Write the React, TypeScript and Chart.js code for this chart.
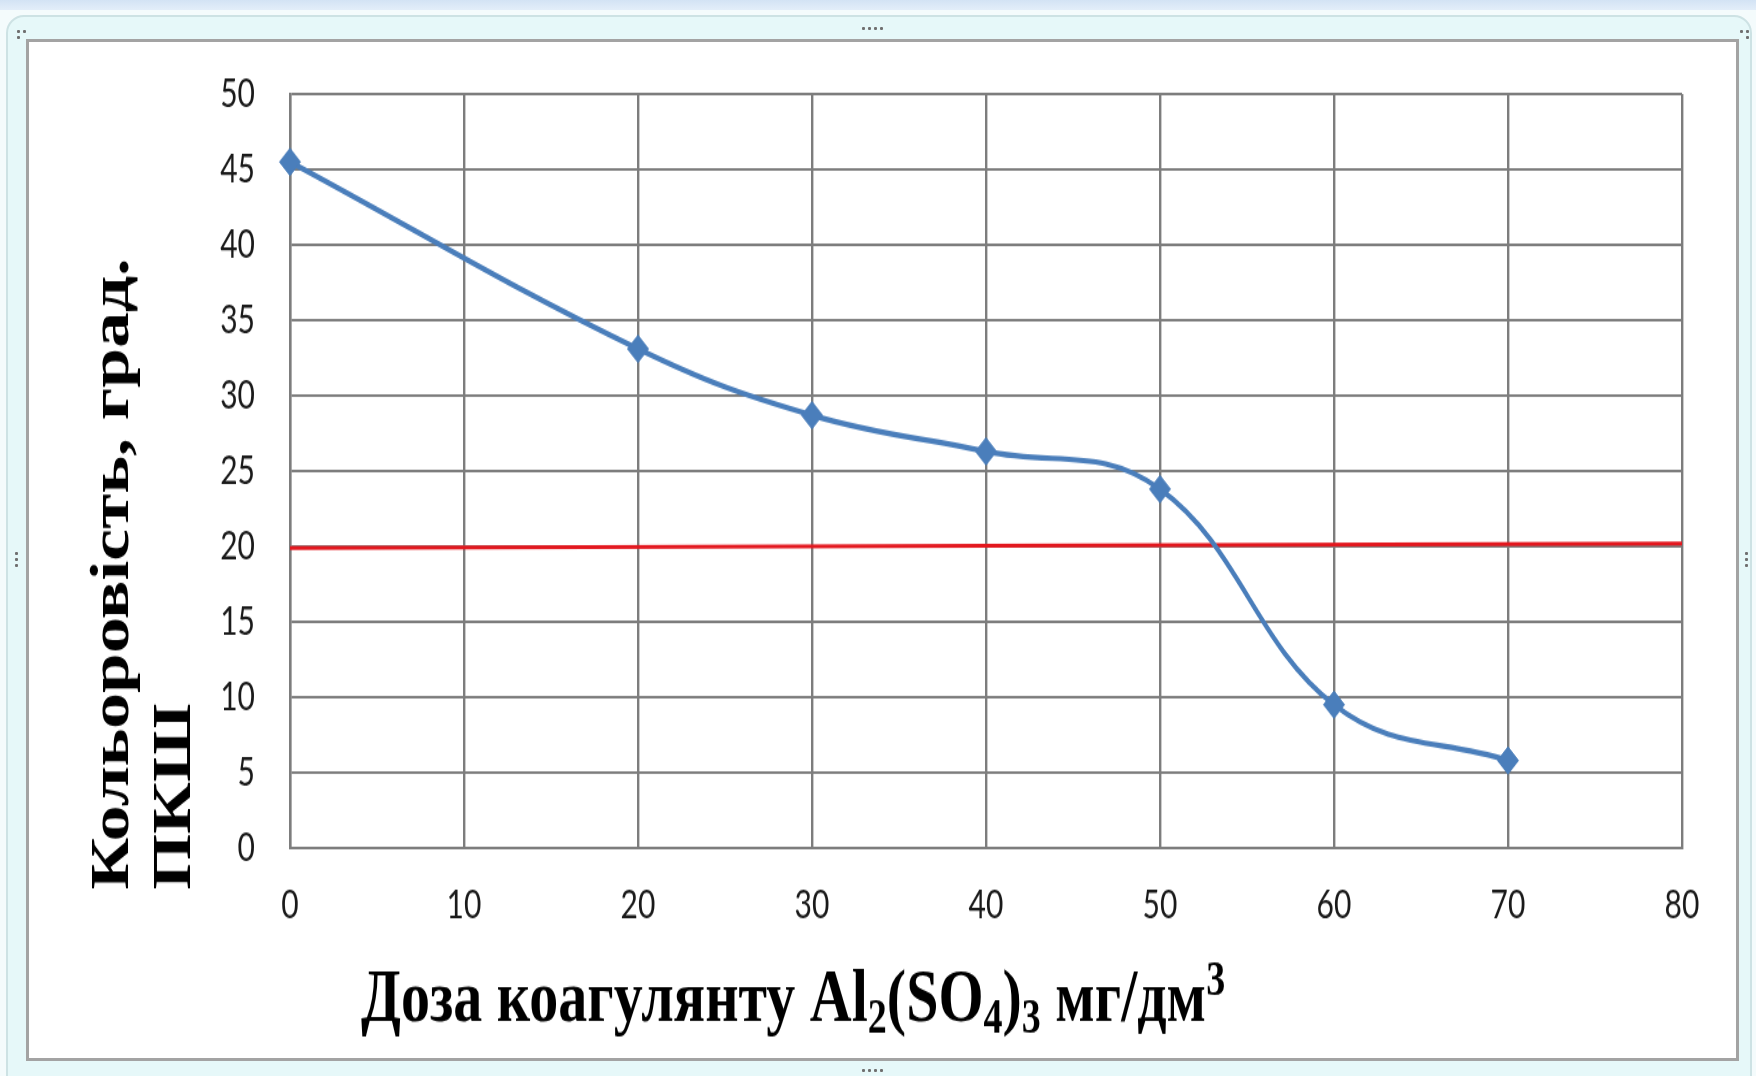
import React, { useEffect, useRef } from 'react';
import { Chart, registerables } from 'chart.js';

Chart.register(...registerables);

// ---- data ----
const doses = [0, 20, 30, 40, 50, 60, 70];
const colourDegrees = [45.5, 33.1, 28.7, 26.3, 23.8, 9.5, 5.8];
const limitDoses = [0, 80];
const limitValues = [19.9, 20.2];
const xRange = [0, 80];
const yRange = [0, 50];
const xStep = 10;
const yStep = 5;
const yTitleLines = ['Кольоровість, град.', 'ПКШ'];
const xTitleParts = [
  { t: 'Доза коагулянту Al', k: 'n' },
  { t: '2', k: 'sub' },
  { t: '(SO', k: 'n' },
  { t: '4', k: 'sub' },
  { t: ')', k: 'n' },
  { t: '3', k: 'sub' },
  { t: ' мг/дм', k: 'n' },
  { t: '3', k: 'sup' },
];

const CANVAS_W = 1707;
const CANVAS_H = 782;
const STRETCH = 1.3;
const SERIF = '"Liberation Serif", "Times New Roman", serif';

const titlesPlugin = {
  id: 'axisTitles',
  afterDraw(chart: any) {
    const ctx = chart.ctx as CanvasRenderingContext2D;
    ctx.save();
    ctx.fillStyle = '#000';
    ctx.font = `bold 55px ${SERIF}`;
    ctx.textAlign = 'left';
    ctx.textBaseline = 'middle';
    const lineX = [85, 147];
    yTitleLines.forEach((line, i) => {
      ctx.save();
      ctx.translate(lineX[i], 652);
      ctx.rotate(-Math.PI / 2);
      ctx.fillText(line, 0, 0);
      ctx.restore();
    });
    ctx.textBaseline = 'alphabetic';
    let x = 332;
    const base = 753;
    for (const p of xTitleParts) {
      const size = p.k === 'n' ? 58 : 38;
      ctx.font = `bold ${size}px ${SERIF}`;
      const dy = p.k === 'sub' ? 9 : p.k === 'sup' ? -20 : 0;
      ctx.fillText(p.t, x, base + dy);
      x += ctx.measureText(p.t).width;
    }
    ctx.restore();
  },
};

function ChartCanvas() {
  const ref = useRef<HTMLCanvasElement | null>(null);
  useEffect(() => {
    if (!ref.current) return;
    const gridColor = '#7d7d7d';
    const tickFont = { family: 'Lato, "Open Sans", "Liberation Sans", sans-serif', size: 30 };
    const chart = new Chart(ref.current, {
      type: 'line',
      data: {
        datasets: [
          {
            data: doses.map((d, i) => ({ x: d, y: colourDegrees[i] })),
            borderColor: '#4a7ebb',
            backgroundColor: '#4a7ebb',
            borderWidth: 4.2,
            tension: 0.4,
            pointStyle: 'rectRot',
            pointRadius: 10.5,
            pointBorderWidth: 1,
            pointBorderColor: '#4a7ebb',
            pointBackgroundColor: '#4a7ebb',
            fill: false,
            clip: false,
          },
          {
            data: limitDoses.map((d, i) => ({ x: d, y: limitValues[i] })),
            borderColor: '#e3171e',
            borderWidth: 3,
            pointRadius: 0,
            tension: 0,
            fill: false,
          },
        ],
      },
      options: {
        animation: false,
        responsive: false,
        maintainAspectRatio: false,
        events: [],
        layout: { padding: { left: 0, right: CANVAS_W - 1653, top: 40, bottom: CANVAS_H - 620 - 70 } },
        plugins: { legend: { display: false }, tooltip: { enabled: false } },
        scales: {
          x: {
            type: 'linear',
            min: xRange[0],
            max: xRange[1],
            afterFit: (s: any) => { s.height = 70; },
            ticks: { stepSize: xStep, font: tickFont, color: '#1a1a1a', padding: 26, maxRotation: 0 },
            grid: { color: gridColor, lineWidth: 2.4, drawTicks: false },
            border: { display: true, color: gridColor, width: 2 },
          },
          y: {
            type: 'linear',
            min: yRange[0],
            max: yRange[1],
            afterFit: (s: any) => { s.width = 261; },
            ticks: { stepSize: yStep, font: tickFont, color: '#1a1a1a', padding: 0 },
            grid: { color: gridColor, lineWidth: 2, drawTicks: true, tickLength: 35, tickColor: 'rgba(0,0,0,0)' },
            border: { display: true, color: gridColor, width: 2.4 },
          },
        },
      },
      plugins: [titlesPlugin],
    } as any);
    return () => chart.destroy();
  }, []);
  return <canvas ref={ref} width={CANVAS_W} height={CANVAS_H} style={{ display: 'block' }} />;
}

const dot = (left: number, top: number) => (
  <div key={`${left}-${top}`} style={{ position: 'absolute', left, top, width: 3, height: 3, background: '#707070', borderRadius: 1 }} />
);

export default function App() {
  const dots = [
    [17, 30], [23, 30], [17, 36],
    [1740, 30], [1746, 30], [1746, 36],
    [862, 27], [868, 27], [874, 27], [880, 27],
    [862, 1069], [868, 1069], [874, 1069], [880, 1069],
    [15, 552], [15, 558], [15, 564],
    [1745, 552], [1745, 558], [1745, 564],
  ];
  return (
    <div style={{ position: 'fixed', left: 0, top: 0, width: 1756, height: 1076, background: '#f4fbfc', overflow: 'hidden' }}>
      <div style={{ position: 'absolute', left: 0, top: 0, width: 1756, height: 10, background: 'linear-gradient(#d3e3f4, #e3eef9)' }} />
      <div style={{ position: 'absolute', left: 6, top: 15, width: 1746, height: 1080, background: '#e6f8f9', border: '2px solid #cde2e4', borderRadius: 18, boxSizing: 'border-box' }} />
      <div style={{ position: 'absolute', left: 26, top: 39, width: 1713, height: 1022, background: '#fff', border: '3px solid #a3a3a3', boxSizing: 'border-box' }} />
      {dots.map(([l, t]) => dot(l, t))}
      <div style={{ position: 'absolute', left: 29, top: 42, width: CANVAS_W, height: CANVAS_H, transform: `scaleY(${STRETCH})`, transformOrigin: '0 0' }}>
        <ChartCanvas />
      </div>
    </div>
  );
}
